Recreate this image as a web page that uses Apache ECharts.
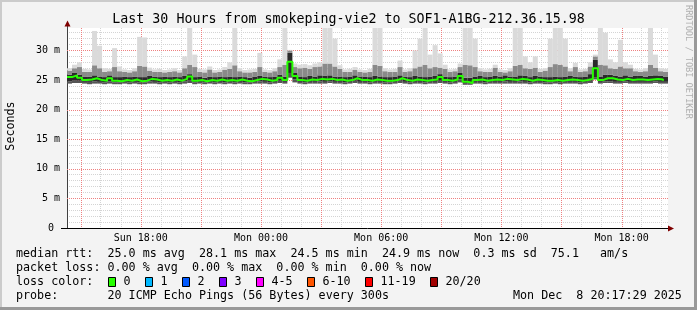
<!DOCTYPE html>
<html>
<head>
<meta charset="utf-8">
<title>smokeping SOF1-A1BG</title>
<script src="https://cdn.jsdelivr.net/npm/echarts@6.0.0/dist/echarts.min.js"></script>
<style>
  html, body { margin: 0; padding: 0; background: #f3f3f3; }
  #chart { width: 697px; height: 310px; }
</style>
</head>
<body>
<div id="chart"></div>
<script>
// time axis in hours counted from Sun 00:00, one sample every 15 min
const startHour = 14 + 19 / 60
const endHour = startHour + 30
const stepHours = 0.25

const xTickHours = [18, 24, 30, 36, 42]
const xTickLabels = ["Sun 18:00", "Mon 00:00", "Mon 06:00", "Mon 12:00", "Mon 18:00"]
const yTickValues = [0, 5, 10, 15, 20, 25, 30]
const yTickLabels = ["0 ", "5 m", "10 m", "15 m", "20 m", "25 m", "30 m"]
const yMax = 33.8

// median rtt (ms)
const median = [
  25.5, 25.8, 25.4, 25.0, 25.1, 25.3, 25.0, 24.9, 25.3, 24.9,
  24.8, 25.0, 24.9, 25.1, 24.8, 24.9, 25.2, 25.1, 24.9, 25.0,
  24.9, 25.1, 24.9, 25.2, 25.6, 24.9, 25.0, 24.8, 25.0, 24.9,
  25.1, 24.9, 25.0, 24.9, 25.1, 24.9, 24.8, 25.0, 25.2, 25.1,
  24.9, 25.0, 25.4, 25.0, 28.1, 25.7, 25.0, 24.9, 25.1, 25.0,
  25.2, 25.1, 25.2, 25.0, 25.1, 24.9, 25.0, 25.3, 25.0, 25.0,
  24.9, 25.1, 25.0, 24.9, 24.9, 25.0, 25.3, 25.0, 24.9, 25.1,
  25.0, 24.9, 25.0, 25.1, 25.5, 25.0, 24.9, 25.1, 25.7, 24.7,
  24.5, 25.0, 25.1, 24.9, 25.0, 25.1, 25.0, 25.2, 25.1, 25.0,
  25.2, 25.1, 24.9, 25.1, 25.0, 24.9, 24.9, 25.0, 24.9, 25.0,
  25.1, 25.0, 24.9, 25.0, 25.2, 27.0, 25.0, 25.3, 25.3, 25.1,
  25.0, 25.2, 25.0, 25.1, 25.1, 25.0, 25.1, 25.2, 25.1, 24.9,
]

// smoke: lowest ping, dark core bounds, 90th percentile, highest ping (ms)
const pingMin = [
  24.4, 24.5, 24.5, 24.4, 24.3, 24.4, 24.4, 24.3, 24.4, 24.3,
  24.3, 24.4, 24.3, 24.4, 24.3, 24.3, 24.4, 24.4, 24.3, 24.4,
  24.3, 24.4, 24.3, 24.4, 24.5, 24.3, 24.4, 24.3, 24.4, 24.3,
  24.4, 24.3, 24.4, 24.3, 24.4, 24.3, 24.3, 24.4, 24.4, 24.4,
  24.3, 24.4, 24.5, 24.4, 25.4, 24.6, 24.4, 24.3, 24.4, 24.4,
  24.4, 24.4, 24.5, 24.4, 24.4, 24.3, 24.4, 24.5, 24.4, 24.4,
  24.3, 24.4, 24.4, 24.3, 24.3, 24.4, 24.5, 24.4, 24.3, 24.4,
  24.4, 24.3, 24.4, 24.4, 24.5, 24.4, 24.3, 24.4, 24.6, 24.2,
  24.2, 24.4, 24.4, 24.3, 24.4, 24.4, 24.4, 24.4, 24.4, 24.4,
  24.4, 24.4, 24.3, 24.4, 24.4, 24.3, 24.3, 24.4, 24.3, 24.4,
  24.4, 24.4, 24.3, 24.4, 24.5, 25.1, 24.4, 24.5, 24.5, 24.4,
  24.4, 24.5, 24.4, 24.4, 24.4, 24.4, 24.4, 24.5, 24.4, 24.4,
]
const coreLow = [
  24.8, 25.0, 24.9, 24.7, 24.7, 24.8, 24.7, 24.6, 24.8, 24.6,
  24.6, 24.7, 24.6, 24.7, 24.6, 24.6, 24.8, 24.7, 24.6, 24.7,
  24.6, 24.7, 24.6, 24.8, 25.0, 24.6, 24.7, 24.6, 24.7, 24.6,
  24.7, 24.6, 24.7, 24.6, 24.7, 24.6, 24.6, 24.7, 24.8, 24.7,
  24.6, 24.7, 24.9, 24.7, 26.2, 25.1, 24.7, 24.6, 24.7, 24.7,
  24.8, 24.7, 24.8, 24.7, 24.7, 24.6, 24.7, 24.9, 24.7, 24.7,
  24.6, 24.7, 24.7, 24.6, 24.6, 24.7, 24.9, 24.7, 24.6, 24.7,
  24.7, 24.6, 24.7, 24.7, 24.9, 24.7, 24.6, 24.7, 25.1, 24.5,
  24.4, 24.7, 24.7, 24.6, 24.7, 24.7, 24.7, 24.8, 24.7, 24.7,
  24.8, 24.7, 24.6, 24.7, 24.7, 24.6, 24.6, 24.7, 24.6, 24.7,
  24.7, 24.7, 24.6, 24.7, 24.9, 25.5, 24.7, 24.8, 24.8, 24.7,
  24.7, 24.8, 24.7, 24.7, 24.7, 24.7, 24.7, 24.8, 24.7, 24.7,
]
const coreHigh = [
  25.9, 26.2, 25.9, 25.6, 25.6, 25.8, 25.6, 25.5, 25.8, 25.5,
  25.5, 25.6, 25.5, 25.6, 25.5, 25.5, 25.7, 25.6, 25.5, 25.6,
  25.5, 25.6, 25.5, 25.7, 26.0, 25.5, 25.6, 25.4, 25.6, 25.5,
  25.6, 25.5, 25.6, 25.5, 25.6, 25.5, 25.4, 25.6, 25.7, 25.6,
  25.5, 25.6, 25.9, 25.6, 29.6, 26.2, 25.6, 25.5, 25.7, 25.6,
  25.8, 25.7, 25.8, 25.6, 25.6, 25.5, 25.6, 25.8, 25.6, 25.6,
  25.5, 25.7, 25.6, 25.5, 25.5, 25.6, 25.8, 25.6, 25.5, 25.7,
  25.6, 25.5, 25.6, 25.7, 26.0, 25.6, 25.5, 25.6, 26.2, 25.4,
  25.4, 25.6, 25.7, 25.5, 25.6, 25.7, 25.6, 25.8, 25.6, 25.6,
  25.8, 25.7, 25.5, 25.7, 25.6, 25.5, 25.5, 25.6, 25.5, 25.6,
  25.7, 25.6, 25.5, 25.6, 26.0, 28.4, 25.6, 25.9, 25.9, 25.7,
  25.6, 25.8, 25.6, 25.7, 25.7, 25.6, 25.7, 25.8, 25.7, 25.6,
]
const ping90 = [
  26.6, 27.0, 27.2, 26.4, 26.4, 27.5, 27.0, 26.4, 26.5, 27.2,
  26.5, 26.4, 26.3, 26.5, 27.4, 27.3, 26.6, 26.4, 26.4, 26.3,
  26.4, 26.5, 26.3, 27.0, 27.6, 27.2, 26.4, 26.3, 26.8, 26.3,
  26.4, 26.7, 26.9, 27.5, 26.5, 26.3, 26.3, 26.4, 27.2, 26.4,
  26.3, 26.5, 27.2, 27.6, 30.0, 27.2, 27.0, 27.1, 26.9, 27.2,
  27.3, 27.8, 27.8, 27.3, 26.9, 26.4, 26.4, 26.7, 26.4, 26.3,
  26.4, 27.6, 27.4, 26.5, 26.4, 26.4, 27.2, 26.4, 26.5, 27.0,
  27.3, 27.6, 27.0, 27.2, 27.1, 26.9, 26.4, 26.5, 27.2, 27.6,
  27.5, 27.2, 26.5, 26.4, 26.4, 27.1, 26.4, 26.3, 26.5, 27.4,
  27.6, 27.0, 26.9, 27.1, 26.4, 26.6, 27.2, 27.7, 27.6, 27.3,
  26.5, 27.2, 26.4, 26.5, 27.3, 29.0, 27.6, 27.5, 27.0, 26.9,
  27.3, 27.0, 27.0, 26.5, 26.4, 26.5, 27.6, 27.1, 26.5, 26.4,
]
const pingMax = [
  27.0, 27.6, 28.0, 26.9, 26.8, 33.3, 30.8, 27.0, 26.9, 30.4,
  27.3, 26.8, 26.7, 27.0, 32.3, 32.2, 27.1, 26.8, 26.9, 26.7,
  26.8, 27.0, 26.7, 29.0, 34.0, 29.3, 26.9, 26.8, 27.3, 26.7,
  26.8, 27.2, 28.0, 34.0, 27.0, 26.7, 26.8, 26.9, 29.6, 26.8,
  26.7, 27.0, 28.5, 34.0, 30.1, 27.8, 27.6, 27.7, 27.5, 27.8,
  28.0, 34.0, 34.0, 32.0, 27.5, 26.8, 26.9, 27.2, 26.8, 26.7,
  26.9, 34.0, 34.0, 27.0, 26.8, 26.9, 28.3, 26.8, 27.0, 30.0,
  32.0, 34.0, 29.3, 30.9, 29.5, 27.6, 26.8, 26.9, 27.8, 34.0,
  34.0, 32.0, 27.0, 26.8, 26.9, 27.6, 26.8, 26.7, 27.0, 34.0,
  34.0, 29.0, 28.0, 29.0, 26.9, 27.0, 32.0, 34.0, 34.0, 32.0,
  27.0, 27.9, 26.8, 26.9, 28.0, 29.3, 34.0, 33.0, 28.5, 28.0,
  31.8, 28.0, 27.6, 26.9, 26.8, 27.0, 34.0, 29.3, 27.0, 26.9,
]

const lossLabels = ["0", "1", "2", "3", "4-5", "6-10", "11-19", "20/20"]
const lossColors = ["#26ff00", "#00b8ff", "#0059ff", "#7e00ff", "#ff00ff", "#ff5500", "#ff0000", "#a10000"]

// smoke shades, from the lowest band to the highest
const smokeColors = ["#555555", "#2a2a2a", "#8a8a8a", "#dadada"]

const majorXHours = []
for (let h = 15; h <= 44; h += 3) majorXHours.push(h)
const minorXHours = []
for (let h = 15; h <= 44; h++) if (h % 3 !== 0) minorXHours.push(h)
const majorYValues = [5, 10, 15, 20, 25, 30]
const minorYValues = []
for (let v = 1; v <= 33; v++) if (v % 5 !== 0) minorYValues.push(v)

const times = median.map((_, i) => startHour + i * stepHours)
const smokeData = times.map((t, i) => [t, pingMin[i], coreLow[i], coreHigh[i], ping90[i], pingMax[i]])

const FONT = '"DejaVu Sans Mono", monospace'
const legendFont = `11.7px ${FONT}`
const majorColor = "#ee8080"
const minorGrid = { color: "#d4d4d4", width: 1, type: [1, 1] }

// a hidden axis that only draws grid lines at the given values
function gridAxis(position, min, max, values, lineStyle) {
  return {
    type: "value",
    position,
    min,
    max,
    axisLine: { show: false },
    axisTick: { show: false, customValues: values },
    axisLabel: { show: false },
    splitLine: { show: true, lineStyle },
  }
}

function renderSmoke(params, api) {
  const cs = params.coordSys
  const t = api.value(0)
  const x0 = api.coord([t, 0])[0]
  const x1 = api.coord([t + stepHours, 0])[0]
  const children = []
  for (let b = 0; b < smokeColors.length; b++) {
    const yLow = api.coord([t, api.value(b + 1)])[1]
    const yHigh = Math.max(cs.y, api.coord([t, api.value(b + 2)])[1])
    if (yLow - yHigh <= 0) continue
    children.push({
      type: "rect",
      shape: { x: x0, y: yHigh, width: x1 - x0, height: yLow - yHigh },
      style: { fill: smokeColors[b] },
    })
  }
  return { type: "group", children }
}

// major grid lines, one item per grid value
function renderVerticalGrid(params, api) {
  const cs = params.coordSys
  const x = Math.round(api.coord([api.value(0), 0])[0]) + 0.5
  return {
    type: "line",
    shape: { x1: x, y1: cs.y, x2: x, y2: cs.y + cs.height },
    style: { stroke: majorColor, lineWidth: 1, lineDash: [1, 1] },
  }
}

function renderHorizontalGrid(params, api) {
  const cs = params.coordSys
  const y = Math.round(api.coord([startHour, api.value(1)])[1]) + 0.5
  return {
    type: "line",
    shape: { x1: cs.x, y1: y, x2: cs.x + cs.width, y2: y },
    style: { stroke: majorColor, lineWidth: 1, lineDash: [1, 1] },
  }
}

function legendText(text, x, y) {
  return {
    type: "text",
    x, y,
    silent: true,
    style: { text, font: legendFont, fill: "#000", verticalAlign: "middle" },
  }
}

// positions of the loss colour boxes in the legend
const lossBoxX = [108.5, 145.5, 182.5, 219.5, 256.5, 307.5, 365.5, 430.5]

const graphics = [
  // 3d frame
  { type: "rect", shape: { x: 0, y: 0, width: 697, height: 2 }, style: { fill: "#cbcbcb" }, silent: true },
  { type: "rect", shape: { x: 0, y: 0, width: 2, height: 310 }, style: { fill: "#cbcbcb" }, silent: true },
  { type: "rect", shape: { x: 0, y: 307, width: 697, height: 3 }, style: { fill: "#999999" }, silent: true },
  { type: "rect", shape: { x: 694, y: 0, width: 3, height: 310 }, style: { fill: "#999999" }, silent: true },
  // axis extensions and arrows
  { type: "line", shape: { x1: 67.5, y1: 22, x2: 67.5, y2: 28 }, style: { stroke: "#404040", lineWidth: 1 }, silent: true, z: 10 },
  { type: "line", shape: { x1: 61, y1: 228.5, x2: 67, y2: 228.5 }, style: { stroke: "#000", lineWidth: 1 }, silent: true, z: 10 },
  { type: "polygon", shape: { points: [[64.5, 26.5], [70.5, 26.5], [67.5, 20.5]] }, style: { fill: "#7f0000" }, silent: true, z: 10 },
  { type: "polygon", shape: { points: [[668, 225.5], [668, 231.5], [674, 228.5]] }, style: { fill: "#7f0000" }, silent: true, z: 10 },
  // side texts
  {
    type: "text", x: 11, y: 126, rotation: Math.PI / 2, silent: true,
    style: { text: "Seconds", font: legendFont, fill: "#000", align: "center", verticalAlign: "middle" },
  },
  {
    type: "text", x: 688, y: 5, rotation: -Math.PI / 2, silent: true,
    style: { text: "RRDTOOL / TOBI OETIKER", font: `8.6px ${FONT}`, fill: "#b0b0b0", align: "left", verticalAlign: "middle" },
  },
  // legend
  legendText("median rtt:  25.0 ms avg  28.1 ms max  24.5 ms min  24.9 ms now  0.3 ms sd  75.1   am/s", 16, 254),
  legendText("packet loss: 0.00 % avg  0.00 % max  0.00 % min  0.00 % now", 16, 268),
  legendText("loss color:", 16, 282),
  legendText("probe:", 16, 296),
  legendText("20 ICMP Echo Pings (56 Bytes) every 300s", 107.5, 296),
  legendText("Mon Dec  8 20:17:29 2025", 513, 296),
]

lossLabels.forEach((label, i) => {
  graphics.push({
    type: "rect",
    shape: { x: lossBoxX[i], y: 277.5, width: 7, height: 9 },
    style: { fill: lossColors[i], stroke: "#000", lineWidth: 1 },
    silent: true,
  })
  graphics.push(legendText(label, lossBoxX[i] + 15, 282))
})

const chart = echarts.init(document.getElementById("chart"), null, { renderer: "canvas" })

chart.setOption({
  animation: false,
  backgroundColor: "#f3f3f3",
  title: {
    text: "Last 30 Hours from smokeping-vie2 to SOF1-A1BG-212.36.15.98",
    left: "center",
    top: 13.5,
    padding: 0,
    textStyle: { fontFamily: FONT, fontSize: 13.3, fontWeight: "normal", color: "#000" },
  },
  grid: {
    left: 67,
    right: 29,
    top: 28,
    bottom: 82,
    show: true,
    backgroundColor: "#ffffff",
    borderWidth: 0,
    outerBoundsMode: "none",
  },
  xAxis: [
    gridAxis("bottom", startHour, endHour, minorXHours, minorGrid),
    {
      type: "value",
      position: "bottom",
      offset: 0,
      min: startHour,
      max: endHour,
      axisLine: { show: true, onZero: false, lineStyle: { color: "#000", width: 1 } },
      axisTick: { show: false },
      axisLabel: {
        customValues: xTickHours,
        formatter: v => xTickLabels[xTickHours.indexOf(v)],
        fontFamily: FONT,
        fontSize: 10,
        color: "#000",
        margin: 5,
      },
      splitLine: { show: false },
    },
  ],
  yAxis: [
    gridAxis("left", 0, yMax, minorYValues, minorGrid),
    {
      type: "value",
      position: "left",
      offset: 0,
      min: 0,
      max: yMax,
      axisLine: { show: true, onZero: false, lineStyle: { color: "#404040", width: 1 } },
      axisTick: { show: false },
      axisLabel: {
        customValues: yTickValues,
        formatter: v => yTickLabels[yTickValues.indexOf(v)],
        fontFamily: FONT,
        fontSize: 10,
        color: "#000",
        margin: 7,
      },
      splitLine: { show: false },
    },
  ],
  series: [
    {
      name: "grid 3h",
      type: "custom",
      xAxisIndex: 1,
      yAxisIndex: 1,
      data: majorXHours.map(h => [h, 0]),
      encode: { x: 0, y: 1 },
      renderItem: renderVerticalGrid,
      silent: true,
      z: 1,
    },
    {
      name: "grid 5ms",
      type: "custom",
      xAxisIndex: 1,
      yAxisIndex: 1,
      data: majorYValues.map(v => [startHour, v]),
      encode: { x: 0, y: 1 },
      renderItem: renderHorizontalGrid,
      silent: true,
      z: 1,
    },
    {
      name: "smoke",
      type: "custom",
      xAxisIndex: 1,
      yAxisIndex: 1,
      data: smokeData,
      encode: { x: 0, y: [1, 2, 3, 4, 5] },
      renderItem: renderSmoke,
      silent: true,
      z: 3,
    },
    {
      name: "median rtt",
      type: "line",
      xAxisIndex: 1,
      yAxisIndex: 1,
      step: "end",
      data: times.map((t, i) => [t, median[i]]),
      symbol: "none",
      silent: true,
      lineStyle: { color: "#26ff00", width: 2 },
      z: 5,
    },
  ],
  graphic: graphics,
})
</script>
</body>
</html>
